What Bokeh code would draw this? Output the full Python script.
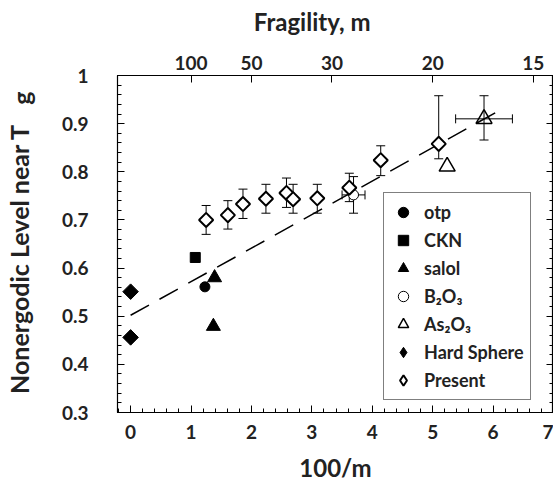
import math
from bokeh.plotting import figure
from bokeh.models import (ColumnDataSource, Whisker, TeeHead, LinearAxis, FixedTicker,
                          CustomJSTickFormatter, Legend, LegendItem, Range1d)
from bokeh.embed import file_html
from bokeh.resources import INLINE

FONT = "Lato"
TXT = "#222222"
NB = "\u00a0"
NAN = float("nan")

# ---- data (x = 100/m, y = nonergodic level) ----
present_x = [1.25, 1.61, 1.86, 2.24, 2.58, 2.69, 3.09, 3.62, 4.14, 5.10]
present_y = [0.700, 0.710, 0.733, 0.744, 0.756, 0.743, 0.745, 0.767, 0.824, 0.858]
present_hi = [0.730, 0.740, 0.764, 0.774, 0.787, 0.774, 0.774, 0.797, 0.854, 0.958]
present_lo = [0.670, 0.681, 0.703, 0.714, 0.726, 0.714, 0.714, 0.738, 0.792, 0.827]

otp_x = [1.23]
otp_y = [0.561]
ckn_x = [1.07]
ckn_y = [0.622]
salol_x = [1.39, 1.37]
salol_y = [0.580, 0.479]

b2o3_x = [3.69]
b2o3_y = [0.752]
b2o3_ylo = [0.714]
b2o3_yhi = [0.790]
b2o3_xlo = [3.50]
b2o3_xhi = [3.88]

as2o3_x = [5.85, 5.24]
as2o3_y = [0.910, 0.811]
as2o3_err_x = [5.85]
as2o3_err_y = [0.910]
as2o3_ylo = [0.866]
as2o3_yhi = [0.958]
as2o3_xlo = [5.38]
as2o3_xhi = [6.32]

hs_x = [0.0, 0.0]
hs_y = [0.551, 0.456]

fit_x = [0.0, 6.2]
fit_y = [0.502, 0.934]

x_ticks = [0, 1, 2, 3, 4, 5, 6, 7]
y_ticks = [0.3, 0.4, 0.5, 0.6, 0.7, 0.8, 0.9, 1.0]
fragility_ticks = [100, 50, 30, 20, 15]

p = figure(width=553, height=489, output_backend="svg", toolbar_location=None, title=None,
           x_range=Range1d(-0.217, 7.0), y_range=Range1d(0.3, 1.0),
           min_border_left=117, min_border_right=0, min_border_top=75, min_border_bottom=77,
           background_fill_color="white", border_fill_color="white")
p.grid.visible = False
p.outline_line_color = "black"
p.outline_line_width = 1.2

def style_axis(ax, size="19px"):
    ax.axis_line_color = "black"
    ax.major_tick_in = 7
    ax.major_tick_out = 0
    ax.minor_tick_in = 4
    ax.minor_tick_out = 0
    ax.major_tick_line_color = "black"
    ax.minor_tick_line_color = "black"
    ax.major_label_text_font = FONT
    ax.major_label_text_font_style = "bold"
    ax.major_label_text_font_size = size
    ax.major_label_text_color = TXT
    ax.axis_label_text_font = FONT
    ax.axis_label_text_font_style = "bold"
    ax.axis_label_text_color = TXT

xa = p.xaxis[0]
style_axis(xa)
xa.ticker = FixedTicker(ticks=x_ticks, minor_ticks=[i * 0.2 for i in range(-1, 36)])
xa.major_label_standoff = 12
xa.axis_label = "100/m"
xa.axis_label_text_font_size = "24px"
xa.axis_label_standoff = 11

ya = p.yaxis[0]
style_axis(ya)
ya.ticker = FixedTicker(ticks=y_ticks, minor_ticks=[0.3 + i * 0.02 for i in range(36)])
ya.major_label_standoff = 29
ya.formatter = CustomJSTickFormatter(code="return tick >= 0.999 ? '1' : tick.toFixed(1)")
# "Nonergodic Level near T" with a subscript g on a second, tightly spaced line
ya.axis_label = "Nonergodic Level near T" + NB * 5 + "\n" + NB * 48 + "g"
ya.axis_label_text_font_size = "25px"
ya.axis_label_text_line_height = 0.05
ya.axis_label_standoff = 23

# right axis (ticks only)
ra = LinearAxis(ticker=FixedTicker(ticks=y_ticks, minor_ticks=[0.3 + i * 0.02 for i in range(36)]),
                formatter=CustomJSTickFormatter(code="return ''"))
style_axis(ra)
ra.major_label_standoff = 0
p.add_layout(ra, "right")

# top axis: fragility m
ta = LinearAxis(ticker=FixedTicker(ticks=[100.0 / m for m in fragility_ticks], minor_ticks=[]),
                formatter=CustomJSTickFormatter(code="return Math.round(100/tick).toString()"))
style_axis(ta)
ta.major_label_standoff = 6
ta.axis_label = "Fragility, m" + NB * 8
ta.axis_label_text_font_size = "24px"
ta.axis_label_standoff = 17
p.add_layout(ta, "above")

# dashed fit line
p.line(fit_x, fit_y, line_color="black", line_width=1.5, line_dash="21 12")

# error bars
head = lambda: TeeHead(size=9, line_color="black", line_width=1)
src_p = ColumnDataSource(dict(x=present_x, y=present_y, lo=present_lo, hi=present_hi))
p.add_layout(Whisker(source=src_p, base="x", lower="lo", upper="hi", dimension="height",
                     line_color="black", line_width=1, upper_head=head(), lower_head=head()))
src_b = ColumnDataSource(dict(x=b2o3_x, y=b2o3_y, ylo=b2o3_ylo, yhi=b2o3_yhi, xlo=b2o3_xlo, xhi=b2o3_xhi))
p.add_layout(Whisker(source=src_b, base="x", lower="ylo", upper="yhi", dimension="height",
                     line_color="black", line_width=1, upper_head=head(), lower_head=head()))
p.add_layout(Whisker(source=src_b, base="y", lower="xlo", upper="xhi", dimension="width",
                     line_color="black", line_width=1, upper_head=head(), lower_head=head()))
src_a = ColumnDataSource(dict(x=as2o3_err_x, y=as2o3_err_y, ylo=as2o3_ylo, yhi=as2o3_yhi,
                              xlo=as2o3_xlo, xhi=as2o3_xhi))
p.add_layout(Whisker(source=src_a, base="x", lower="ylo", upper="yhi", dimension="height",
                     line_color="black", line_width=1, upper_head=head(), lower_head=head()))
p.add_layout(Whisker(source=src_a, base="y", lower="xlo", upper="xhi", dimension="width",
                     line_color="black", line_width=1, upper_head=head(), lower_head=head()))

# markers
r_otp = p.scatter(otp_x, otp_y, marker="circle", size=10, fill_color="black", line_color="black")
r_ckn = p.scatter(ckn_x, ckn_y, marker="square", size=10, fill_color="black", line_color="black")
r_salol = p.scatter(salol_x, salol_y, marker="triangle", size=14, fill_color="black", line_color="black")
r_b2o3 = p.scatter(b2o3_x, b2o3_y, marker="circle", size=10, fill_color="white", line_color="black",
                   line_width=1)
r_as = p.scatter(as2o3_x, as2o3_y, marker="triangle", size=16, fill_color=None, line_color="black",
                 line_width=1.5)
r_hs = p.scatter(hs_x, hs_y, marker="square", size=11, angle=math.pi / 4, fill_color="black",
                 line_color="black")
r_pr = p.scatter(present_x, present_y, marker="square", size=10, angle=math.pi / 4,
                 fill_color="white", line_color="black", line_width=2)

# legend swatches for the rotated-square (diamond) series (not drawn in the plot area)
r_hs_leg = p.scatter([NAN], [NAN], marker="diamond", fill_color="black", line_color="black")
r_pr_leg = p.scatter([NAN], [NAN], marker="diamond", fill_color="white", line_color="black",
                     line_width=2)

legend = Legend(items=[
    LegendItem(label="otp", renderers=[r_otp]),
    LegendItem(label="CKN", renderers=[r_ckn]),
    LegendItem(label="salol", renderers=[r_salol]),
    LegendItem(label="B\u2082O\u2083", renderers=[r_b2o3]),
    LegendItem(label="As\u2082O\u2083", renderers=[r_as]),
    LegendItem(label="Hard Sphere", renderers=[r_hs_leg]),
    LegendItem(label="Present", renderers=[r_pr_leg]),
], location=(266, 12))
legend.label_text_font = FONT
legend.label_text_font_style = "bold"
legend.label_text_font_size = "18px"
legend.label_text_color = TXT
legend.border_line_color = "black"
legend.border_line_width = 1
legend.background_fill_alpha = 1
legend.glyph_width = 26
legend.glyph_height = 26
legend.label_height = 26
legend.spacing = 2
legend.padding = 6
legend.margin = 0
legend.label_standoff = 8
p.add_layout(legend, "center")

open("out.html", "w").write(file_html(p, INLINE))
